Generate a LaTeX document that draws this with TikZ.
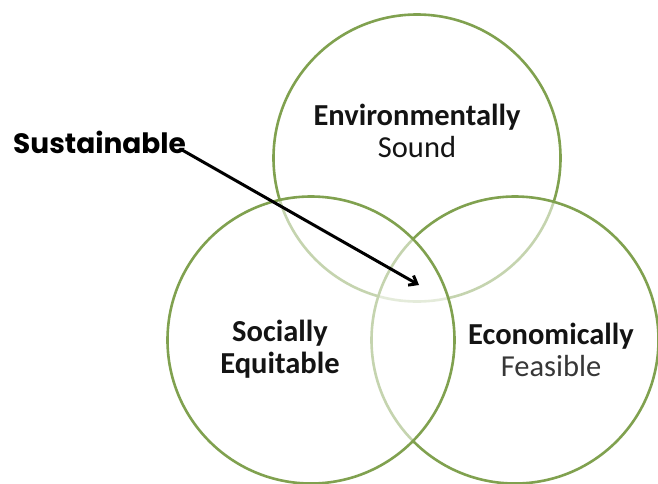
\documentclass[tikz,border=0pt]{standalone}
\usepackage{fontspec}
\setmainfont{Carlito}
\newfontfamily\gothic{Poppins}
\usetikzlibrary{arrows.meta, calc, positioning}
\definecolor{leaf}{RGB}{128,161,79}
\definecolor{ink}{RGB}{20,20,20}
\tikzstyle{set} = [circle, draw=leaf, line width=2.6pt, fill=white, fill opacity=0.55, minimum size=287pt, inner sep=0pt]
\tikzstyle{tag} = [align=center, text=ink, font=\fontsize{30.5}{32}\selectfont]
\tikzstyle{pointer} = [black, line width=3pt, -{Straight Barb[length=7pt, width=11pt]}]
\begin{document}
\begin{tikzpicture}[x=1pt, y=-1pt]
	\useasboundingbox (0,0) rectangle (658,483);
	\node (Env) [set] at (417,158) {};
	\node (Eco) [set] at (515,340) {};
	\node (Soc) [set] at (311,340) {};
	
	\node (EnvText) [tag] at ($(Env)+(0,-27)$) {\textbf{Environmentally}\\Sound};
	\node (SocText) [tag] at ($(Soc)+(-31,9)$) {\textbf{Socially}\\\textbf{Equitable}};
	\node (EcoText) [tag] at ($(Eco)+(36,10)$) {\textbf{Economically}\\{\color{ink!85}Feasible}};
	\node (Sustainable) [anchor=base west, inner sep=0pt, font=\gothic\bfseries\fontsize{28}{30}\selectfont] at (13,153) {Sustainable};
	\coordinate (Core) at (419,285);
	
	\draw [pointer] ($(Sustainable.base east)+(-4,-3)$) -- (Core);
\end{tikzpicture}
\end{document}
